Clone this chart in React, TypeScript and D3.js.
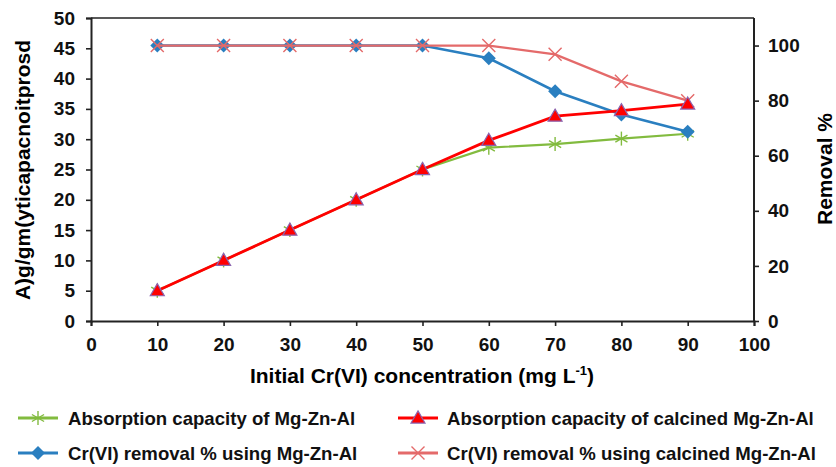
import React, { useRef, useEffect } from "react"
import * as d3 from "d3"

const concentrations = [10, 20, 30, 40, 50, 60, 70, 80, 90]
const capacityRaw = [5, 10, 15, 20, 25, 28.6, 29.2, 30.1, 30.9]
const capacityCalcined = [5, 10, 15, 20, 25, 29.8, 33.8, 34.7, 35.8]
const removalRaw = [100, 100, 100, 100, 100, 95.4, 83.4, 75, 68.7]
const removalCalcined = [100, 100, 100, 100, 100, 100, 96.8, 87, 80]

const xTicks = d3.range(0, 101, 10)
const leftTicks = d3.range(0, 51, 5)
const rightTicks = d3.range(0, 101, 20)

const legendLabels = [
  "Absorption capacity of Mg-Zn-Al",
  "Absorption capacity of calcined Mg-Zn-Al",
  "Cr(VI) removal % using Mg-Zn-Al",
  "Cr(VI) removal % using calcined Mg-Zn-Al",
]

const GREEN = "#82bb3f"
const RED = "#ff0000"
const BLUE = "#2a7fc0"
const PINK = "#e46a6a"

const App: React.FC = () => {
  const svgRef = useRef<SVGSVGElement | null>(null)
  const width = 836
  const height = 467

  useEffect(() => {
    const svg = d3.select(svgRef.current)
    svg.selectAll("*").remove()

    const left = 91, right = 754, top = 18, bottom = 321
    const font = "'Liberation Sans', Arial, sans-serif"

    const x = d3.scaleLinear().domain([0, 100]).range([left, right])
    const yL = d3.scaleLinear().domain([0, 50]).range([bottom, top])
    const yR = d3.scaleLinear().domain([0, 110]).range([bottom, top])

    const styleAxis = (g: d3.Selection<SVGGElement, unknown, null, undefined>) => {
      g.selectAll("path").attr("stroke", "#222").attr("stroke-width", 2)
      g.selectAll(".tick line").attr("stroke", "#222").attr("stroke-width", 1.6)
      g.selectAll("text")
        .attr("font-family", font)
        .attr("font-size", 19)
        .attr("font-weight", "bold")
        .attr("fill", "#111")
    }

    svg.append("g")
      .attr("transform", `translate(0,${bottom})`)
      .call(d3.axisBottom(x).tickValues(xTicks).tickSizeOuter(0).tickSize(5).tickPadding(12))
      .call(styleAxis)

    svg.append("g")
      .attr("transform", `translate(${left},0)`)
      .call(d3.axisLeft(yL).tickValues(leftTicks).tickSizeOuter(0).tickSize(5).tickPadding(11))
      .call(styleAxis)

    svg.append("g")
      .attr("transform", `translate(${right},0)`)
      .call(d3.axisRight(yR).tickValues(rightTicks).tickSizeOuter(0).tickSize(5).tickPadding(9))
      .call(styleAxis)
      .call(g => g.select("path").attr("d", `M0,${bottom}V${top}`))

    // top border
    svg.append("line")
      .attr("x1", left).attr("x2", right)
      .attr("y1", top).attr("y2", top)
      .attr("stroke", "#222").attr("stroke-width", 1.5)

    // axis titles
    const xt = svg.append("text")
      .attr("x", 422).attr("y", 383)
      .attr("text-anchor", "middle")
      .attr("font-family", font).attr("font-size", 21).attr("font-weight", "bold")
    xt.append("tspan").text("Initial Cr(VI) concentration (mg L")
    xt.append("tspan").attr("font-size", 13).attr("dy", -8).text("-1")
    xt.append("tspan").attr("dy", 8).text(")")

    svg.append("text")
      .attr("transform", `translate(30,170) rotate(-90)`)
      .attr("text-anchor", "middle")
      .attr("font-family", font).attr("font-size", 21).attr("font-weight", "bold")
      .text("A)g/gm(yticapacnoitprosd")

    svg.append("text")
      .attr("transform", `translate(832,169) rotate(-90)`)
      .attr("text-anchor", "middle")
      .attr("font-family", font).attr("font-size", 21).attr("font-weight", "bold")
      .text("Removal %")

    const line = (ys: number[], scale: d3.ScaleLinear<number, number>) =>
      d3.line<number>().x((_, i) => x(concentrations[i])).y(d => scale(d))(ys) as string

    const drawMarker = (g: d3.Selection<SVGGElement, unknown, null, undefined>, kind: string, cx: number, cy: number) => {
      if (kind === "star") {
        const r = 7
        for (const a of [0, 60, 120]) {
          const rad = (a * Math.PI) / 180
          g.append("line")
            .attr("x1", cx - r * Math.sin(rad)).attr("y1", cy - r * Math.cos(rad))
            .attr("x2", cx + r * Math.sin(rad)).attr("y2", cy + r * Math.cos(rad))
            .attr("stroke", GREEN).attr("stroke-width", 1.4)
        }
      } else if (kind === "tri") {
        g.append("path")
          .attr("d", d3.symbol(d3.symbolTriangle, 85)() as string)
          .attr("transform", `translate(${cx},${cy + 1})`)
          .attr("fill", RED).attr("stroke", "#8a64b0").attr("stroke-width", 1.2)
      } else if (kind === "diamond") {
        g.append("path")
          .attr("d", `M0,-7L7,0L0,7L-7,0Z`)
          .attr("transform", `translate(${cx},${cy})`)
          .attr("fill", BLUE)
      } else if (kind === "x") {
        const r = 6.5
        g.append("path")
          .attr("d", `M${cx - r},${cy - r}L${cx + r},${cy + r}M${cx - r},${cy + r}L${cx + r},${cy - r}`)
          .attr("stroke", PINK).attr("stroke-width", 1.4)
      }
    }

    const series = [
      { ys: capacityRaw, scale: yL, color: GREEN, marker: "star", w: 2.2 },
      { ys: removalRaw, scale: yR, color: BLUE, marker: "diamond", w: 2.6 },
      { ys: removalCalcined, scale: yR, color: PINK, marker: "x", w: 2.2 },
      { ys: capacityCalcined, scale: yL, color: RED, marker: "tri", w: 2.8 },
    ]

    series.forEach(s => {
      const g = svg.append("g")
      g.append("path")
        .attr("d", line(s.ys, s.scale))
        .attr("fill", "none")
        .attr("stroke", s.color)
        .attr("stroke-width", s.w)
      s.ys.forEach((v, i) => drawMarker(g, s.marker, x(concentrations[i]), s.scale(v)))
    })

    // legend
    const legendItems = [
      { label: legendLabels[0], color: GREEN, marker: "star", lx: 18, ly: 418, tx: 68 },
      { label: legendLabels[1], color: RED, marker: "tri", lx: 398, ly: 418, tx: 447 },
      { label: legendLabels[2], color: BLUE, marker: "diamond", lx: 18, ly: 453, tx: 68 },
      { label: legendLabels[3], color: PINK, marker: "x", lx: 398, ly: 453, tx: 447 },
    ]
    legendItems.forEach(item => {
      const g = svg.append("g")
      g.append("line")
        .attr("x1", item.lx).attr("x2", item.lx + 40)
        .attr("y1", item.ly).attr("y2", item.ly)
        .attr("stroke", item.color).attr("stroke-width", 2.8)
      drawMarker(g, item.marker, item.lx + 20, item.ly)
      g.append("text")
        .attr("x", item.tx).attr("y", item.ly + 7)
        .attr("font-family", font).attr("font-size", 18.6).attr("font-weight", "bold")
        .attr("fill", "#111")
        .text(item.label)
    })
  }, [])

  return <svg ref={svgRef} width={width} height={height} style={{ position: "absolute", left: 0, top: 0 }} />
}

export default App
